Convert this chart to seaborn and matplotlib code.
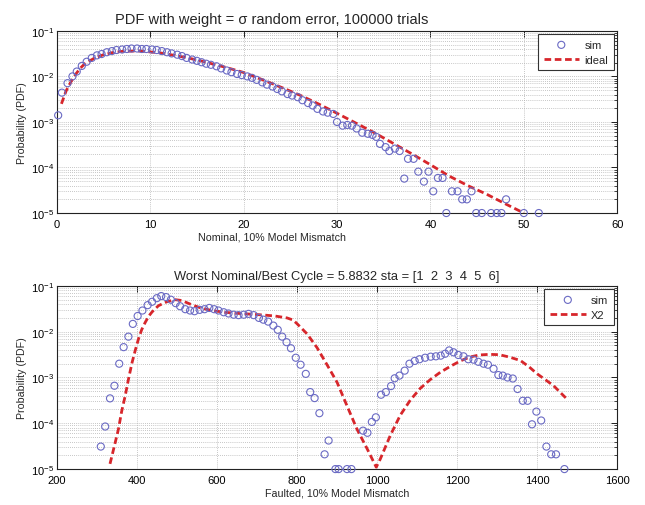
import numpy as np
import pandas as pd
import matplotlib
matplotlib.use("Agg")
import matplotlib.pyplot as plt
import seaborn as sns
from matplotlib.ticker import LogLocator, FixedLocator

# ---------------- data ----------------
top_title = "PDF with weight = \u03c3 random error, 100000 trials"
top_xlabel = "Nominal, 10% Model Mismatch"
bot_title = "Worst Nominal/Best Cycle = 5.8832 sta = [1  2  3  4  5  6]"
bot_xlabel = "Faulted, 10% Model Mismatch"
ylabel = "Probability (PDF)"

top_sim_x = [0.15, 0.55, 1.15, 1.68, 2.14, 2.68, 3.2, 3.75, 4.3, 4.8, 5.36, 5.9, 6.4, 7.0, 7.5,
             8.0, 8.6, 9.1, 9.6, 10.2, 10.7, 11.25, 11.8, 12.3, 12.9, 13.4, 13.9, 14.5, 15.0,
             15.5, 16.0, 16.5, 17.1, 17.6, 18.2, 18.7, 19.3, 19.8, 20.4, 20.9, 21.4, 22.0, 22.5,
             23.1, 23.6, 24.1, 24.7, 25.2, 25.8, 26.3, 26.9, 27.4, 27.9, 28.5, 29.0, 29.6, 30.0,
             30.6, 31.1, 31.6, 32.1, 32.7, 33.3, 33.8, 34.2, 34.6, 35.2, 35.6, 36.2, 36.7, 37.2,
             37.6, 38.2, 38.7, 39.3, 39.8, 40.3, 40.8, 41.3, 41.7, 42.3, 42.9, 43.4, 43.9, 44.4,
             44.9, 45.5, 46.5, 47.1, 47.6, 48.1, 50.0, 51.6]
top_sim_y = [1.4e-3, 4.4e-3, 7.1e-3, 1.0e-2, 1.28e-2, 1.7e-2, 2.1e-2, 2.55e-2, 2.9e-2, 3.1e-2,
             3.4e-2, 3.6e-2, 3.8e-2, 3.9e-2, 4.0e-2, 4.1e-2, 4.1e-2, 4.0e-2, 4.0e-2, 3.9e-2,
             3.8e-2, 3.6e-2, 3.4e-2, 3.2e-2, 3.0e-2, 2.8e-2, 2.55e-2, 2.35e-2, 2.2e-2, 2.05e-2,
             1.9e-2, 1.8e-2, 1.67e-2, 1.5e-2, 1.35e-2, 1.24e-2, 1.13e-2, 1.07e-2, 1.0e-2, 9.3e-3,
             8.4e-3, 7.4e-3, 6.6e-3, 6.0e-3, 5.3e-3, 4.7e-3, 4.1e-3, 3.8e-3, 3.5e-3, 3.0e-3,
             2.6e-3, 2.3e-3, 1.94e-3, 1.7e-3, 1.6e-3, 1.5e-3, 1.0e-3, 8.3e-4, 8.6e-4, 8.3e-4,
             7.2e-4, 5.8e-4, 5.5e-4, 5.2e-4, 4.7e-4, 3.3e-4, 2.8e-4, 2.3e-4, 2.6e-4, 2.3e-4,
             5.7e-5, 1.55e-4, 1.55e-4, 8.1e-5, 4.9e-5, 8.1e-5, 3.0e-5, 5.9e-5, 5.9e-5, 1e-5,
             3.0e-5, 3.0e-5, 2.0e-5, 2.0e-5, 3.0e-5, 1e-5, 1e-5, 1e-5, 1e-5, 1e-5, 2.0e-5,
             1e-5, 1e-5]

top_ideal_x = [0.5, 1, 1.5, 2, 2.5, 3, 4, 5, 6, 7, 8, 9, 10, 11, 12, 13, 14, 15, 16, 17, 18,
               19, 20, 22, 24, 26, 28, 30, 32, 34, 36, 38, 40, 42, 44, 46, 48, 50]
top_ideal_y = [2.5e-3, 4.8e-3, 7.5e-3, 1.1e-2, 1.5e-2, 1.9e-2, 2.5e-2, 3.0e-2, 3.35e-2, 3.55e-2,
               3.6e-2, 3.6e-2, 3.45e-2, 3.3e-2, 3.05e-2, 2.8e-2, 2.55e-2, 2.3e-2, 2.05e-2,
               1.8e-2, 1.6e-2, 1.4e-2, 1.22e-2, 8.5e-3, 5.8e-3, 3.9e-3, 2.5e-3, 1.55e-3, 9.5e-4,
               5.8e-4, 3.4e-4, 2.0e-4, 1.15e-4, 6.5e-5, 4.0e-5, 2.6e-5, 1.6e-5, 1.0e-5]

bot_sim_x = [310, 321, 333, 344, 356, 367, 379, 390, 402, 414, 427, 438, 450, 461, 473, 485,
             497, 508, 521, 533, 544, 557, 569, 581, 593, 604, 617, 629, 642, 654, 667, 679,
             692, 705, 716, 728, 741, 752, 763, 774, 785, 797, 809, 822, 833, 844, 856, 869,
             879, 896, 904, 925, 936, 965, 976, 987, 997, 1010, 1022, 1035, 1044, 1056, 1069,
             1081, 1094, 1106, 1120, 1134, 1147, 1159, 1170, 1180, 1191, 1203, 1216, 1228,
             1241, 1253, 1266, 1277, 1291, 1303, 1314, 1326, 1339, 1351, 1364, 1376, 1387,
             1398, 1410, 1423, 1435, 1447, 1468]
bot_sim_y = [3.1e-5, 8.5e-5, 3.5e-4, 6.6e-4, 2.0e-3, 4.6e-3, 7.8e-3, 1.48e-2, 2.2e-2, 2.9e-2,
             3.8e-2, 4.5e-2, 5.4e-2, 6.0e-2, 5.7e-2, 5.0e-2, 4.2e-2, 3.6e-2, 3.1e-2, 2.9e-2,
             2.8e-2, 3.0e-2, 3.1e-2, 3.3e-2, 3.1e-2, 2.9e-2, 2.66e-2, 2.5e-2, 2.35e-2, 2.3e-2,
             2.35e-2, 2.45e-2, 2.3e-2, 2.0e-2, 1.83e-2, 1.66e-2, 1.36e-2, 1.1e-2, 7.8e-3,
             5.9e-3, 4.35e-3, 2.7e-3, 1.9e-3, 1.2e-3, 4.8e-4, 3.55e-4, 1.66e-4, 2.1e-5, 4.2e-5,
             1e-5, 1e-5, 1e-5, 1e-5, 6.9e-5, 6.2e-5, 1.07e-4, 1.35e-4, 4.2e-4, 4.8e-4, 6.5e-4,
             9.6e-4, 1.1e-3, 1.41e-3, 2.0e-3, 2.3e-3, 2.5e-3, 2.7e-3, 2.85e-3, 2.9e-3, 3.0e-3,
             3.3e-3, 3.9e-3, 3.55e-3, 3.1e-3, 2.9e-3, 2.5e-3, 2.45e-3, 2.2e-3, 2.0e-3, 1.9e-3,
             1.55e-3, 1.13e-3, 1.1e-3, 1.0e-3, 9.5e-4, 5.6e-4, 3.1e-4, 3.1e-4, 9.5e-5, 1.8e-4,
             1.15e-4, 3.1e-5, 2.1e-5, 2.1e-5, 1e-5]

bot_x2_x = [333, 345, 354, 362, 371, 380, 388, 396, 404, 412, 421, 430, 438, 454, 475, 496,
            512, 525, 538, 562, 588, 620, 655, 690, 720, 745, 775, 790, 800, 825, 850, 875,
            900, 925, 950, 975, 998, 1008, 1033, 1058, 1083, 1108, 1133, 1158, 1183, 1208,
            1232, 1255, 1280, 1305, 1330, 1358, 1380, 1400, 1420, 1441, 1474]
bot_x2_y = [1.3e-5, 3.5e-5, 7.4e-5, 1.8e-4, 4.0e-4, 1.0e-3, 2.1e-3, 3.9e-3, 6.9e-3, 1.1e-2,
            1.6e-2, 2.2e-2, 2.7e-2, 3.7e-2, 4.5e-2, 5.0e-2, 4.8e-2, 4.3e-2, 3.85e-2, 3.25e-2,
            2.9e-2, 2.65e-2, 2.5e-2, 2.4e-2, 2.3e-2, 2.2e-2, 2.0e-2, 1.8e-2, 1.5e-2, 9.0e-3,
            4.5e-3, 1.9e-3, 7.9e-4, 2.4e-4, 7.4e-5, 2.8e-5, 1.1e-5, 1.65e-5, 5.4e-5, 1.5e-4,
            3.2e-4, 5.8e-4, 9.0e-4, 1.3e-3, 1.75e-3, 2.3e-3, 2.8e-3, 3.1e-3, 3.2e-3, 3.15e-3,
            2.8e-3, 2.35e-3, 1.7e-3, 1.2e-3, 9.0e-4, 6.6e-4, 3.4e-4]

# ---------------- style ----------------
sns.set_style("white")
plt.rcParams['font.family'] = ['Liberation Sans', 'DejaVu Sans']
plt.rcParams['mathtext.fontset'] = 'custom'
plt.rcParams['mathtext.rm'] = 'Liberation Sans'
plt.rcParams['mathtext.it'] = 'Liberation Sans'

SIM_C = '#6a6ac4'
LINE_C = '#d7262b'
GRID_C = '#b4b4b4'
TICK_FS = 8
LABEL_FS = 7.7

fig = plt.figure(figsize=(6.45, 5.06), dpi=100)
ax1 = fig.add_axes([0.088, 0.577, 0.869, 0.360])
ax2 = fig.add_axes([0.088, 0.071, 0.869, 0.362])


def style_axes(ax, xlim, xticks):
    ax.set_yscale('log')
    ax.set_xlim(*xlim)
    ax.set_ylim(1e-5, 1e-1)
    ax.xaxis.set_major_locator(FixedLocator(xticks))
    ax.yaxis.set_major_locator(LogLocator(base=10, numticks=10))
    ax.yaxis.set_minor_locator(LogLocator(base=10, subs=np.arange(2, 10), numticks=20))
    ax.grid(True, which='major', axis='both', ls=(0, (1, 1.5)), color=GRID_C, lw=0.6)
    ax.grid(True, which='minor', axis='y', ls=(0, (1, 1.5)), color=GRID_C, lw=0.6)
    ax.set_axisbelow(True)
    ax.tick_params(which='both', direction='in', top=True, right=True,
                   labelsize=TICK_FS, colors='black')
    ax.tick_params(axis='x', pad=4)
    ax.tick_params(axis='y', pad=2)
    ax.tick_params(which='major', length=4, width=0.6)
    ax.tick_params(which='minor', length=2, width=0.5)
    for s in ax.spines.values():
        s.set_linewidth(0.8)
        s.set_color('#222222')
        s.set_visible(True)


df1s = pd.DataFrame({'x': top_sim_x, 'y': top_sim_y})
df1l = pd.DataFrame({'x': top_ideal_x, 'y': top_ideal_y})
df2s = pd.DataFrame({'x': bot_sim_x, 'y': bot_sim_y})
df2l = pd.DataFrame({'x': bot_x2_x, 'y': bot_x2_y})

# top
sns.lineplot(data=df1l, x='x', y='y', ax=ax1, color=LINE_C, lw=2.0,
             dashes=False, label='ideal', zorder=3, sort=False)
ax1.lines[-1].set_linestyle((0, (2.4, 1.3)))
sns.scatterplot(data=df1s, x='x', y='y', ax=ax1, marker='o', s=26,
                facecolors='none', edgecolor=SIM_C, linewidth=0.8, label='sim',
                zorder=4, clip_on=False)
style_axes(ax1, (0, 60), [0, 10, 20, 30, 40, 50, 60])
ax1.set_title(top_title, fontsize=10.5, pad=6, x=0.384)
ax1.set_xlabel(top_xlabel, fontsize=LABEL_FS, labelpad=2, x=0.384)
ax1.set_ylabel(ylabel, fontsize=LABEL_FS, labelpad=3)

# bottom
sns.lineplot(data=df2l, x='x', y='y', ax=ax2, color=LINE_C, lw=2.0,
             dashes=False, label='X2', zorder=3, sort=False)
ax2.lines[-1].set_linestyle((0, (2.4, 1.3)))
sns.scatterplot(data=df2s, x='x', y='y', ax=ax2, marker='o', s=26,
                facecolors='none', edgecolor=SIM_C, linewidth=0.8, label='sim',
                zorder=4, clip_on=False)
style_axes(ax2, (200, 1600), [200, 400, 600, 800, 1000, 1200, 1400, 1600])
ax2.set_title(bot_title, fontsize=9.3, pad=5)
ax2.set_xlabel(bot_xlabel, fontsize=LABEL_FS, labelpad=2)
ax2.set_ylabel(ylabel, fontsize=LABEL_FS, labelpad=3)

for ax in (ax1, ax2):
    h, l = ax.get_legend_handles_labels()
    order = [l.index('sim'), 1 - l.index('sim')]
    leg = ax.legend([h[i] for i in order], [l[i] for i in order],
                    loc='upper right', fontsize=8, frameon=True, fancybox=False,
                    edgecolor='#333333', framealpha=1, borderpad=0.5,
                    handlelength=3.2, handletextpad=0.5, labelspacing=0.45,
                    borderaxespad=0.3)
    leg.get_frame().set_linewidth(0.8)

fig.savefig('out.png', dpi=100)
